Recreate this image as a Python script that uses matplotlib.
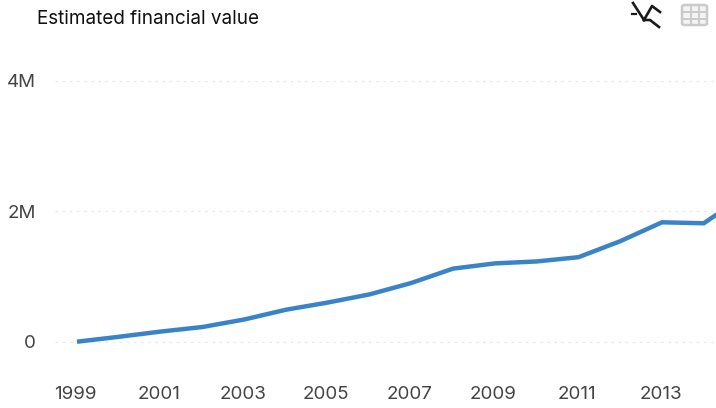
import matplotlib
matplotlib.use("Agg")
from matplotlib import pyplot as plt
from matplotlib.lines import Line2D
from matplotlib.patches import FancyBboxPatch
from matplotlib.transforms import ScaledTranslation

years = [1999, 2000, 2001, 2002, 2003, 2004, 2005, 2006, 2007, 2008, 2009, 2010, 2011, 2012, 2013, 2014, 2015]
values = [0, 75000, 155000, 225000, 340000, 490000, 600000, 725000, 900000, 1120000, 1200000, 1230000, 1295000, 1540000, 1830000, 1815000, 2250000]
year_ticks = [1999, 2001, 2003, 2005, 2007, 2009, 2011, 2013]
value_ticks = [0, 2000000, 4000000]
value_labels = ["0", "2M", "4M"]

W, H = 716, 408
plt.rcParams["font.family"] = ["Inter", "DejaVu Sans"]
fig = plt.figure(figsize=(W / 100, H / 100), dpi=100)

# plot area in pixels: x 55-716, y 60-375 from the top
ax = fig.add_axes([55 / W, 1 - 375 / H, (W - 55) / W, 315 / H])
px_per_year = (662 - 77) / 14
ax.set_xlim(1999 - (77 - 55) / px_per_year, 1999 + (716 - 77) / px_per_year)
px_per_unit = 130.5 / 2000000
ax.set_ylim(-(375 - 341.7) / px_per_unit, (341.7 - 60) / px_per_unit)

ax.plot(years, values, color="#3984c8", lw=3.2, solid_joinstyle="miter", solid_capstyle="butt")

ax.set_yticks(value_ticks)
ax.set_yticklabels(value_labels)
ax.set_xticks(year_ticks)
ax.grid(axis="y", color="#ebebeb", lw=0.9, ls=(0, (2.2, 3.5)))
ax.set_axisbelow(True)
ax.tick_params(axis="both", length=0, labelsize=13.5, labelcolor="#444444")
ax.tick_params(axis="y", pad=14)
ax.tick_params(axis="x", pad=8)
for s in ax.spines.values():
    s.set_visible(False)

# nudge year labels a pixel left
nudge = ScaledTranslation(-1.5 / 100, 0, fig.dpi_scale_trans)
for label in ax.get_xticklabels():
    label.set_transform(label.get_transform() + nudge)

fig.text(37 / W, 1 - 19.5 / H, "Estimated financial value", fontsize=13.6, color="#111111", va="center", ha="left")


def fx(x):
    return x / W


def fy(y):
    return 1 - y / H


def icon_line(points, color, lw):
    fig.add_artist(Line2D([fx(p[0]) for p in points], [fy(p[1]) for p in points], color=color, lw=lw))


# chart / table toggle icons
icon_line([(633, 3), (644, 20)], "#1a1a1a", 1.9)
icon_line([(644, 20), (652, 6), (660, 12)], "#1a1a1a", 1.9)
icon_line([(644, 20), (650, 20), (659, 27)], "#1a1a1a", 1.9)
icon_line([(632, 14), (636, 14)], "#1a1a1a", 1.6)

fig.add_artist(FancyBboxPatch((fx(682), fy(25)), 25 / W, 20 / H, boxstyle="round,pad=0,rounding_size=0.004",
                              transform=fig.transFigure, fc="#f4f4f4", ec="#cacaca", lw=1.8))
for gx in [690.5, 698.5]:
    icon_line([(gx, 5), (gx, 25)], "#cacaca", 1.4)
for gy in [11.5, 18.5]:
    icon_line([(682, gy), (707, gy)], "#cacaca", 1.4)

fig.savefig("out.png", dpi=100)
